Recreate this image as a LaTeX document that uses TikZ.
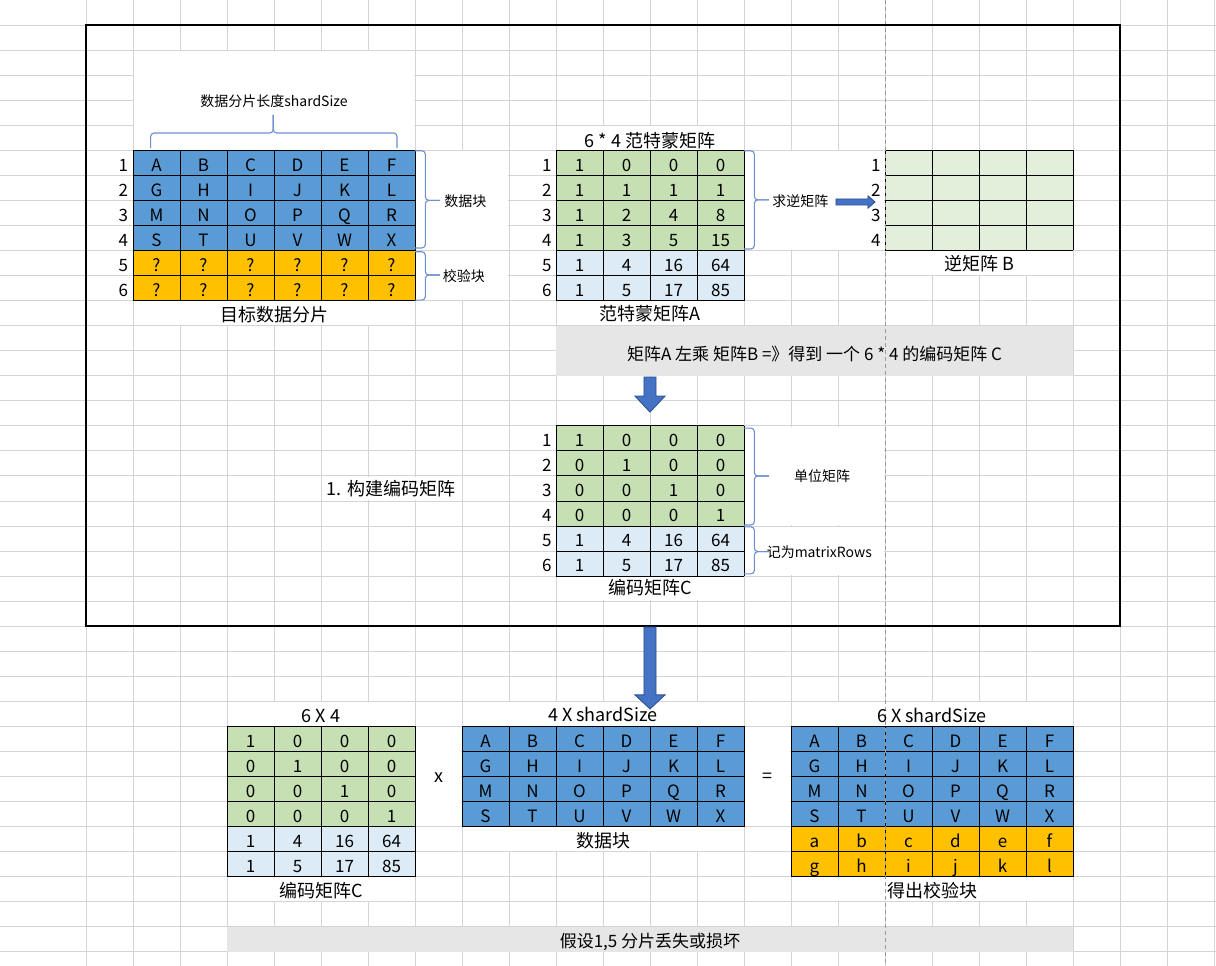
\documentclass[tikz,border=0pt]{standalone}
\usepackage{fontspec}
\setmainfont{Noto Sans CJK SC}
\definecolor{cblue}{HTML}{5B9BD5}
\definecolor{corange}{HTML}{FFC000}
\definecolor{cgreen}{HTML}{C6E0B4}
\definecolor{clblue}{HTML}{DDEBF7}
\definecolor{clgreen}{HTML}{E2EFDA}
\definecolor{cgray}{HTML}{E7E6E6}
\definecolor{cgrid}{HTML}{D4D4D4}
\definecolor{carrow}{HTML}{4472C4}
\definecolor{carrowd}{HTML}{2F528F}
\definecolor{cbrace}{HTML}{6F8FD0}
\newcommand\myfscell{\fontsize{17}{20}\selectfont}
\newcommand\myfsbig{\fontsize{18}{21}\selectfont}
\newcommand\myfsbar{\fontsize{17}{20}\selectfont}
\newcommand\myfssmall{\fontsize{14}{17}\selectfont}
\newcommand\myblank[4]{\fill[white] (#1+0.015,#2+0.03) rectangle (#3-0.015,#4-0.03);}
\newcommand\mytgrid[4]{%
  \foreach \cc in {#1,...,#3} {\draw[tline] (\cc,#2) -- (\cc,#4);}
  \foreach \rr in {#2,...,#4} {\draw[tline] (#1,\rr) -- (#3,\rr);}}
\newcommand\myrbrace[4]{%
  \draw[brc] (#1,#2) -- (#1+0.22,#2) -- (#1+0.22,#4) -- (#1+0.53,#4);
  \draw[brc] (#1+0.53,#4) -- (#1+0.22,#4) -- (#1+0.22,#3) -- (#1,#3);}
\newcommand\mydarrow[4]{%
  \draw[arr] (#1-0.128,#2) -- (#1+0.128,#2) -- (#1+0.128,#3) -- (#1+0.32,#3)
    -- (#1,#4) -- (#1-0.32,#3) -- (#1-0.128,#3) -- cycle;}
\tikzset{
  cell/.style={anchor=base, inner sep=0pt, font=\myfscell},
  rnum/.style={anchor=base east, inner sep=0pt, font=\myfscell},
  lbl/.style={anchor=base, inner sep=0pt, font=\myfsbig},
  sml/.style={anchor=base, inner sep=0pt, font=\myfssmall},
  gridl/.style={draw=cgrid, line width=1pt},
  tline/.style={draw=black, line width=1pt},
  brc/.style={draw=cbrace, line width=1.1pt, rounded corners=3.5pt},
  arr/.style={fill=carrow, draw=carrowd, line width=0.9pt},
  pgbreak/.style={draw=black!40, line width=1pt, dash pattern=on 4pt off 3pt},
  frame/.style={draw=black, line width=2.2pt}
}
\begin{document}
\begin{tikzpicture}[x=47pt,y=-25.05pt]
\useasboundingbox[fill=white] (-1.8298,0) rectangle (24.0426,38.563);
% background spreadsheet grid
\foreach \c in {0,...,24} {\draw[gridl] (\c,0) -- (\c,38.563);}
\foreach \r in {1,...,38} {\draw[gridl] (-1.8298,\r) -- (24.0426,\r);}
% merged cells (no grid)
\myblank{1}{2}{7}{6}
\myblank{1}{12}{7}{13}
\myblank{7}{6}{9}{10}
\myblank{7}{10}{9}{12}
\myblank{10}{5}{14}{6}
\myblank{10}{12}{14}{13}
\myblank{14}{6}{17}{10}
\myblank{17}{10}{21}{11}
\myblank{14}{17}{17}{21}
\myblank{14}{21}{17}{23}
\myblank{10}{23}{14}{24}
\myblank{5}{19}{8}{20}
\myblank{3}{28}{7}{29}
\myblank{3}{35}{7}{36}
\myblank{7}{29}{8}{33}
\myblank{8}{28}{14}{29}
\myblank{8}{33}{14}{34}
\myblank{14}{29}{15}{33}
\myblank{15}{28}{21}{29}
\myblank{15}{35}{21}{36}
% gray bars
\fill[cgray] (10,13) rectangle (21,15);
\fill[cgray] (3,37) rectangle (21,38);
% ---- fills of tables
\fill[cblue] (1,6) rectangle (7,10);
\fill[corange] (1,10) rectangle (7,12);
\fill[cgreen] (10,6) rectangle (14,10);
\fill[clblue] (10,10) rectangle (14,12);
\fill[clgreen] (17,6) rectangle (21,10);
\fill[cgreen] (10,17) rectangle (14,21);
\fill[clblue] (10,21) rectangle (14,23);
\fill[cgreen] (3,29) rectangle (7,33);
\fill[clblue] (3,33) rectangle (7,35);
\fill[cblue] (8,29) rectangle (14,33);
\fill[cblue] (15,29) rectangle (21,33);
\fill[corange] (15,33) rectangle (21,35);
% table rules
\mytgrid{1}{6}{7}{12}
\mytgrid{10}{6}{14}{12}
\mytgrid{17}{6}{21}{10}
\mytgrid{10}{17}{14}{23}
\mytgrid{3}{29}{7}{35}
\mytgrid{8}{29}{14}{33}
\mytgrid{15}{29}{21}{35}
% page break line
\draw[pgbreak] (17,0) -- (17,38.563);
% frame
\draw[frame] (0,1) rectangle (22,25);
% ---- table contents
\foreach \rw [count=\i from 1] in {{A,B,C,D,E,F},{G,H,I,J,K,L},{M,N,O,P,Q,R},{S,T,U,V,W,X},{?,?,?,?,?,?},{?,?,?,?,?,?}}{
  \node[rnum] (tln\i) at (0.9,5.83+\i) {\i};
  \foreach \t [count=\j from 1] in \rw {\node[cell] (tl\i-\j) at (0.5+\j,5.83+\i) {\t};}
}
\foreach \rw [count=\i from 1] in {{1,0,0,0},{1,1,1,1},{1,2,4,8},{1,3,5,15},{1,4,16,64},{1,5,17,85}}{
  \node[rnum] (van\i) at (9.91,5.83+\i) {\i};
  \foreach \t [count=\j from 1] in \rw {\node[cell] (va\i-\j) at (9.5+\j,5.83+\i) {\t};}
}
\foreach \i in {1,...,4}{\node[rnum] (bn\i) at (16.91,5.83+\i) {\i};}
\foreach \rw [count=\i from 1] in {{1,0,0,0},{0,1,0,0},{0,0,1,0},{0,0,0,1},{1,4,16,64},{1,5,17,85}}{
  \node[rnum] (cn\i) at (9.91,16.83+\i) {\i};
  \foreach \t [count=\j from 1] in \rw {\node[cell] (cm\i-\j) at (9.5+\j,16.83+\i) {\t};}
  \foreach \t [count=\j from 1] in \rw {\node[cell] (bc\i-\j) at (2.5+\j,28.83+\i) {\t};}
}
\foreach \rw [count=\i from 1] in {{A,B,C,D,E,F},{G,H,I,J,K,L},{M,N,O,P,Q,R},{S,T,U,V,W,X}}{
  \foreach \t [count=\j from 1] in \rw {\node[cell] (db\i-\j) at (7.5+\j,28.83+\i) {\t};}
}
\foreach \rw [count=\i from 1] in {{A,B,C,D,E,F},{G,H,I,J,K,L},{M,N,O,P,Q,R},{S,T,U,V,W,X},{a,b,c,d,e,f},{g,h,i,j,k,l}}{
  \foreach \t [count=\j from 1] in \rw {\node[cell] (rs\i-\j) at (14.5+\j,28.83+\i) {\t};}
}
% ---- braces
\draw[brc] (1.376,5.91) -- (1.376,5.31) -- (3.985,5.31) -- (3.985,4.59);
\draw[brc] (3.985,4.59) -- (3.985,5.31) -- (6.617,5.31) -- (6.617,5.91);
\myrbrace{7}{6.02}{9.9}{8.0}
\myrbrace{7}{10.05}{11.98}{10.98}
\myrbrace{14}{6.02}{9.94}{7.98}
\myrbrace{14}{17.09}{20.96}{19.0}
\myrbrace{14}{21.03}{22.91}{22.02}
% ---- arrows
\draw[arr] (15.957,7.944) -- (16.638,7.944) -- (16.638,7.82) -- (16.787,8.064)
  -- (16.638,8.308) -- (16.638,8.184) -- (15.957,8.184) -- cycle;
\mydarrow{12}{15.05}{15.81}{16.45}
\mydarrow{12}{25.03}{27.74}{28.3}
% ---- labels
\node[sml] (shardlbl) at (4.0,4.24) {数据分片长度shardSize};
\node[sml,anchor=base west] (datalbl) at (7.62,8.24) {数据块};
\node[sml,anchor=base west] (paritylbl) at (7.59,11.23) {校验块};
\node[lbl] (tlcap) at (4,12.83) {目标数据分片};
\node[lbl] (vantitle) at (12,5.88) {6 * 4 范特蒙矩阵};
\node[lbl] (vancap) at (12,12.79) {范特蒙矩阵A};
\node[sml,anchor=base west] (invlbl) at (14.6,8.24) {求逆矩阵};
\node[lbl] (bcap) at (19,10.81) {逆矩阵 B};
\node[anchor=base, inner sep=0pt, font=\myfsbar] (bartext) at (15.5,14.39) {矩阵A 左乘 矩阵B =》得到 一个 6 * 4 的编码矩阵 C};
\node[sml] (unitlbl) at (15.66,19.24) {单位矩阵};
\node[sml,anchor=base west] (rowslbl) at (14.48,22.24) {记为matrixRows};
\node[lbl] (ccap) at (12,23.75) {编码矩阵C};
\node[lbl,anchor=base west] (steplbl) at (5.12,19.78) {1. 构建编码矩阵};
\node[lbl] (t64) at (5,28.85) {6 X 4};
\node[lbl] (t4s) at (11,28.81) {4 X shardSize};
\node[lbl] (t6s) at (18,28.83) {6 X shardSize};
\node[lbl] (bccap) at (5,35.81) {编码矩阵C};
\node[lbl] (dbcap) at (11,33.82) {数据块};
\node[lbl] (rscap) at (18,35.82) {得出校验块};
\node[lbl] (times) at (7.51,31.23) {x};
\node[lbl] (equals) at (14.51,31.24) {=};
\node[anchor=base, inner sep=0pt, font=\myfsbar] (assume) at (12,37.82) {假设1,5 分片丢失或损坏};
\end{tikzpicture}
\end{document}
